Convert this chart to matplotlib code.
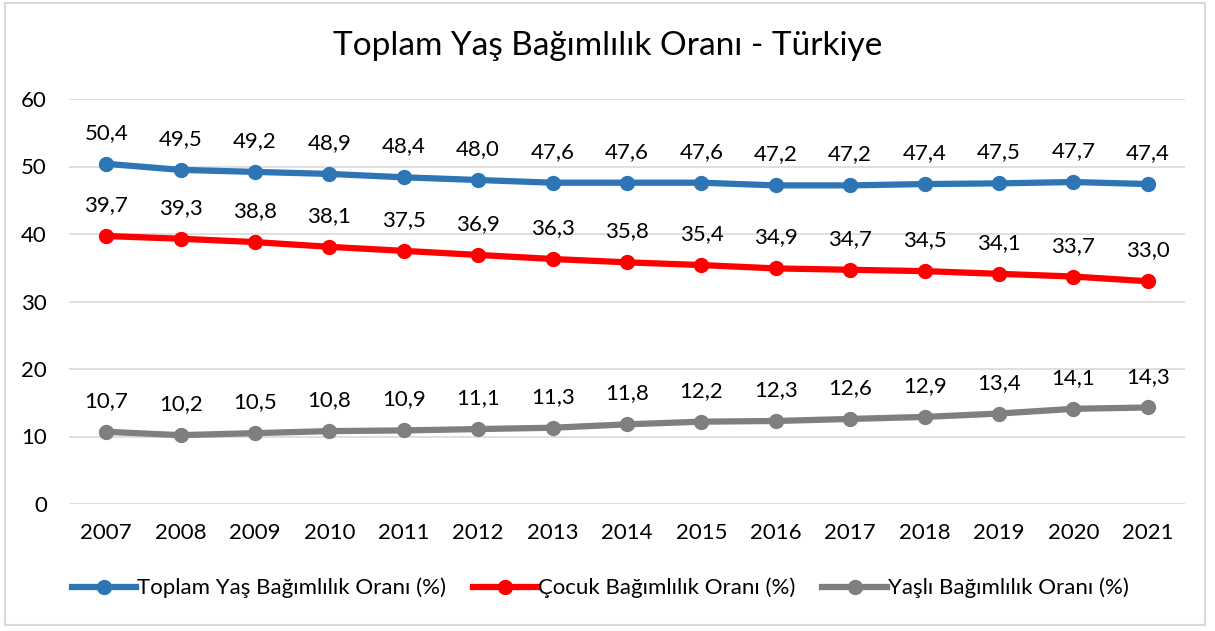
import matplotlib.pyplot as plt
from matplotlib.patches import Rectangle

years = [2007, 2008, 2009, 2010, 2011, 2012, 2013, 2014, 2015, 2016, 2017, 2018, 2019, 2020, 2021]
toplam = [50.4, 49.5, 49.2, 48.9, 48.4, 48.0, 47.6, 47.6, 47.6, 47.2, 47.2, 47.4, 47.5, 47.7, 47.4]
cocuk = [39.7, 39.3, 38.8, 38.1, 37.5, 36.9, 36.3, 35.8, 35.4, 34.9, 34.7, 34.5, 34.1, 33.7, 33.0]
yasli = [10.7, 10.2, 10.5, 10.8, 10.9, 11.1, 11.3, 11.8, 12.2, 12.3, 12.6, 12.9, 13.4, 14.1, 14.3]

series = [
    (toplam, 'Toplam Yaş Bağımlılık Oranı (%)', '#2E75B6'),
    (cocuk, 'Çocuk Bağımlılık Oranı (%)', '#FF0000'),
    (yasli, 'Yaşlı Bağımlılık Oranı (%)', '#7F7F7F'),
]

plt.rcParams['font.family'] = ['Lato', 'DejaVu Sans']

fig = plt.figure(figsize=(12.15, 6.31), dpi=100)
fig.patches.append(Rectangle((5 / 1215, 6 / 631), 1200 / 1215, 622 / 631,
                             transform=fig.transFigure, fill=False,
                             edgecolor='#D9D9D9', linewidth=1.5))
ax = fig.add_axes([69 / 1215, 127 / 631, 1116 / 1215, 405 / 631])

x = list(range(len(years)))
for vals, name, col in series:
    ax.plot(x, vals, '-o', color=col, linewidth=4.5, markersize=10, label=name)
    for xi, v in zip(x, vals):
        ax.annotate(f'{v:.1f}'.replace('.', ','), (xi, v), xytext=(0, 15),
                    textcoords='offset points', ha='center', va='bottom',
                    fontsize=16, color='#000000')

ax.set_xlim(-0.5, len(years) - 0.5)
ax.set_ylim(0, 60)
ax.set_yticks(range(0, 61, 10))
ax.set_xticks(x)
ax.set_xticklabels([str(y) for y in years])
ax.tick_params(axis='both', length=0, labelsize=16, colors='#000000')
ax.tick_params(axis='y', pad=16)
ax.tick_params(axis='x', pad=14)
ax.grid(axis='y', color='#D9D9D9', linewidth=1.2)
ax.set_axisbelow(True)
for s in ax.spines.values():
    s.set_visible(False)

fig.text(0.5, 0.927, 'Toplam Yaş Bağımlılık Oranı - Türkiye', ha='center', va='center',
         fontsize=24, color='#000000')

fig.legend(loc='center', bbox_to_anchor=(0.494, 0.068), ncol=3, frameon=False,
           fontsize=16, handlelength=2.9, handletextpad=0.05, columnspacing=1.2)

fig.savefig('out.png', dpi=100)
